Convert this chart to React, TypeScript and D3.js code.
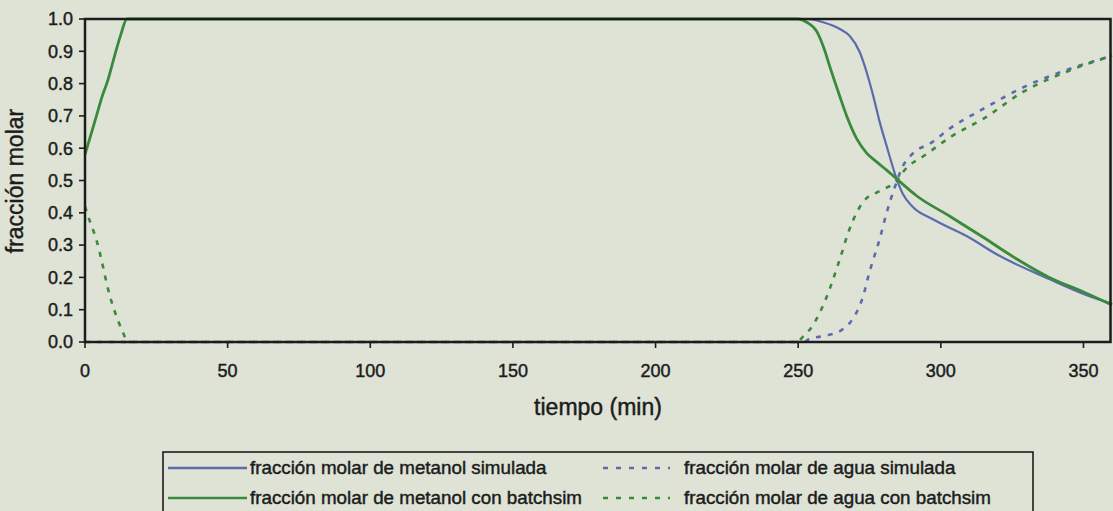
import React from "react";
import * as d3 from "d3";

// Time axis (min) and mole fraction axis
const xTicks = [0, 50, 100, 150, 200, 250, 300, 350];
const yTicks = [0, 0.1, 0.2, 0.3, 0.4, 0.5, 0.6, 0.7, 0.8, 0.9, 1.0];

// Methanol mole fraction, simulated: [time, fraction]
const metanolSimulada: [number, number][] = [
  [0, 1], [250, 1], [253, 1.0], [258.7, 0.99], [264.6, 0.969], [268, 0.948],
  [271.6, 0.897], [274, 0.835], [276.3, 0.762], [278.6, 0.68], [281, 0.607],
  [284.5, 0.505], [286.7, 0.458], [290.2, 0.418], [297.2, 0.38], [309, 0.328],
  [320.7, 0.266], [338, 0.195], [350, 0.149], [360, 0.118],
];

// Methanol mole fraction, batchsim
const metanolBatchsim: [number, number][] = [
  [0, 0.58], [2, 0.64], [4, 0.7], [6, 0.76], [8, 0.81], [10.5, 0.89],
  [12.5, 0.95], [14.7, 1.0], [250, 1], [253, 0.99], [256.6, 0.96],
  [259, 0.91], [261, 0.855], [264.6, 0.76], [267, 0.7], [270.6, 0.628],
  [274, 0.585], [277.6, 0.557], [281, 0.532], [284.5, 0.505], [291.6, 0.452],
  [303, 0.39], [314.7, 0.325], [326.6, 0.257], [338, 0.2], [350, 0.155],
  [360, 0.115],
];

// Water mole fraction, simulated
const aguaSimulada: [number, number][] = [
  [0, 0], [252, 0], [254, 0.01], [260, 0.02], [265.7, 0.04], [269, 0.07],
  [272.7, 0.14], [275, 0.217], [278.6, 0.32], [281, 0.4], [284, 0.483],
  [286.7, 0.545], [290, 0.582], [297, 0.619], [303, 0.66], [314.7, 0.721],
  [330, 0.793], [345, 0.845], [360, 0.886],
];

// Water mole fraction, batchsim
const aguaBatchsim: [number, number][] = [
  [0, 0.42], [0.7, 0.4], [4.2, 0.31], [8.8, 0.14], [13.3, 0.03], [15, 0],
  [250, 0], [251, 0.01], [255, 0.05], [260, 0.14], [264.6, 0.257],
  [268, 0.35], [272.7, 0.433], [278.6, 0.468], [284.6, 0.5],
  [286.7, 0.526], [295, 0.582], [304, 0.638], [314.7, 0.69], [328.8, 0.774],
  [345, 0.84], [360, 0.886],
];

const legendLabels = [
  "fracción molar de metanol simulada",
  "fracción molar de metanol con batchsim",
  "fracción molar de agua simulada",
  "fracción molar de agua con batchsim",
];

const W = 1113;
const H = 511;
const BLUE = "#5a6cae";
const GREEN = "#3a8a3c";
const INK = "#1c1c1c";
const FONT = "'Liberation Sans', Arial, sans-serif";

// a light outline thickens the glyphs a little
const textStyle = { stroke: INK, strokeWidth: 0.45, paintOrder: "stroke" as const };

export default function App() {
  const x = d3.scaleLinear().domain([0, 360]).range([85, 1112]);
  const y = d3.scaleLinear().domain([0, 1]).range([342, 19]);
  const line = d3
    .line<[number, number]>()
    .x((d) => x(d[0]))
    .y((d) => y(d[1]))
    .curve(d3.curveMonotoneX);

  const series = [
    { data: metanolSimulada, color: BLUE, width: 2.2, dash: undefined },
    { data: aguaSimulada, color: BLUE, width: 2.6, dash: "5 7" },
    { data: aguaBatchsim, color: GREEN, width: 2.6, dash: "5 7" },
    { data: metanolBatchsim, color: GREEN, width: 2.8, dash: undefined },
  ];

  const legendItems = [
    { label: legendLabels[0], color: BLUE, dash: undefined, x0: 168, x1: 247, tx: 250, ty: 474 },
    { label: legendLabels[1], color: GREEN, dash: undefined, x0: 168, x1: 247, tx: 250, ty: 504 },
    { label: legendLabels[2], color: BLUE, dash: "5 8", x0: 603, x1: 670, tx: 684, ty: 474 },
    { label: legendLabels[3], color: GREEN, dash: "5 8", x0: 603, x1: 670, tx: 684, ty: 504 },
  ];

  return (
    <svg
      width={W}
      height={H}
      style={{ position: "absolute", left: 0, top: 0, display: "block" }}
      fontFamily={FONT}
    >
      <rect x={0} y={0} width={W} height={H} fill="#dee3d6" />

      {series.map((s, i) => (
        <path
          key={i}
          d={line(s.data) ?? ""}
          fill="none"
          stroke={s.color}
          strokeWidth={s.width}
          strokeDasharray={s.dash}
          strokeLinejoin="round"
        />
      ))}

      {/* plot frame */}
      <rect
        x={x(0)}
        y={y(1)}
        width={x(360) - x(0) - 1.5}
        height={y(0) - y(1)}
        fill="none"
        stroke={INK}
        strokeWidth={2.5}
      />

      {/* y axis */}
      {yTicks.map((t) => (
        <g key={t}>
          <line x1={x(0) - 6} x2={x(0)} y1={y(t)} y2={y(t)} stroke={INK} strokeWidth={1.6} />
          <text
            x={73}
            y={y(t)}
            dy="0.35em"
            textAnchor="end"
            fontSize={18}
            fill={INK}
            style={textStyle}
          >
            {t.toFixed(1)}
          </text>
        </g>
      ))}

      {/* x axis */}
      {xTicks.map((t) => (
        <g key={t}>
          <line x1={x(t)} x2={x(t)} y1={y(0)} y2={y(0) + 6} stroke={INK} strokeWidth={1.6} />
          <text x={x(t)} y={377} textAnchor="middle" fontSize={18} fill={INK} style={textStyle}>
            {t}
          </text>
        </g>
      ))}

      <text x={598} y={415} textAnchor="middle" fontSize={23} fill={INK} style={textStyle}>
        tiempo (min)
      </text>
      <text
        transform="translate(23,181) rotate(-90)"
        textAnchor="middle"
        fontSize={23}
        fill={INK}
        style={textStyle}
      >
        fracción molar
      </text>

      {/* legend */}
      <rect x={163} y={452} width={870} height={70} fill="none" stroke={INK} strokeWidth={1.6} />
      {legendItems.map((it, i) => (
        <g key={i}>
          <line
            x1={it.x0}
            x2={it.x1}
            y1={it.ty - 6}
            y2={it.ty - 6}
            stroke={it.color}
            strokeWidth={2.5}
            strokeDasharray={it.dash}
          />
          <text x={it.tx} y={it.ty} fontSize={18.8} fill={INK} style={textStyle}>
            {it.label}
          </text>
        </g>
      ))}
    </svg>
  );
}
